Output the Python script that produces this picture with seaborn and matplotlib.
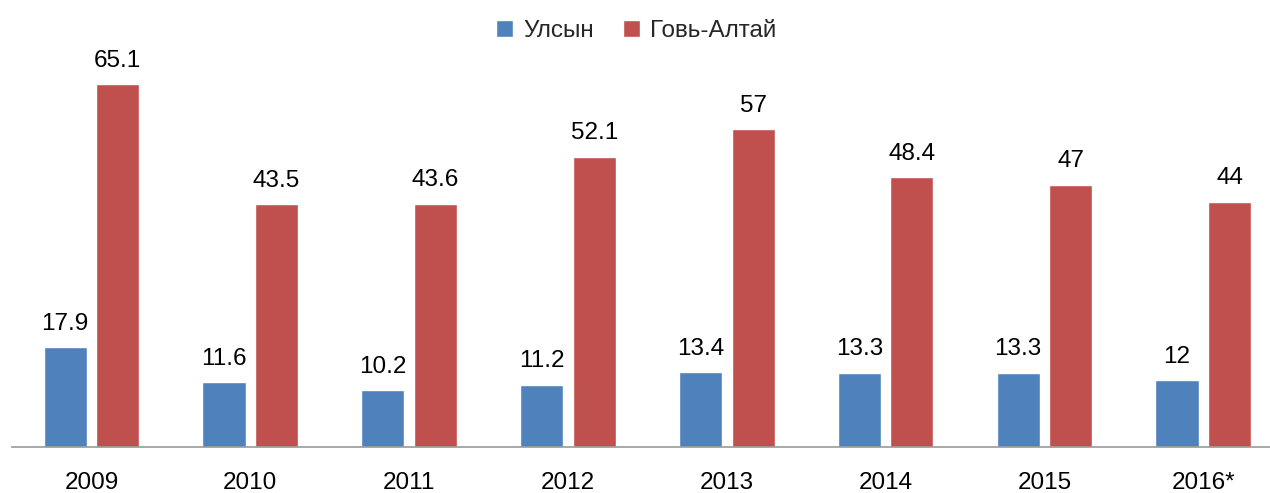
import pandas as pd
import numpy as np
import seaborn as sns
import matplotlib.pyplot as plt

years = ['2009', '2010', '2011', '2012', '2013', '2014', '2015', '2016*']
ulsyn = [17.9, 11.6, 10.2, 11.2, 13.4, 13.3, 13.3, 12]
govi_altai = [65.1, 43.5, 43.6, 52.1, 57, 48.4, 47, 44]
series = ['Улсын', 'Говь-Алтай']
colors = ['#4F81BD', '#C0504D']

df = pd.DataFrame({'year': years * 2,
                   'value': ulsyn + govi_altai,
                   'series': [series[0]] * len(years) + [series[1]] * len(years)})

sns.set_theme(style='white')
plt.rcParams['font.family'] = ['Liberation Sans', 'DejaVu Sans']

fig = plt.figure(figsize=(12.7, 4.93), dpi=100)
ax = fig.add_axes([12 / 1270, (493 - 447) / 493, 1258 / 1270, (447 - 40) / 493])

sns.barplot(data=df, x='year', y='value', hue='series', palette=colors,
            saturation=1, width=0.662, gap=0.18, ax=ax, legend=True)

for cont in ax.containers:
    labels = ['%g' % v for v in cont.datavalues]
    ax.bar_label(cont, labels=labels, padding=9, fontsize=17.5, color='black')

ax.set_ylim(0, 73)
ax.set_xlim(-0.5, 7.42)
ax.set_xlabel('')
ax.set_ylabel('')
ax.set_yticks([])
ax.tick_params(axis='x', length=0, labelsize=17.5, pad=18, colors='black')
for s in ['top', 'right', 'left']:
    ax.spines[s].set_visible(False)
ax.spines['bottom'].set_color('#999999')
ax.spines['bottom'].set_linewidth(1.2)

ax.legend(loc='upper center', bbox_to_anchor=(0.5 - 5 / 1258, 1 + 40 / 407 + 0.005),
          ncol=2, frameon=False, fontsize=17.5, handlelength=0.7, handleheight=0.7,
          handletextpad=0.4, columnspacing=1.2)

plt.savefig('out.png', dpi=100)
